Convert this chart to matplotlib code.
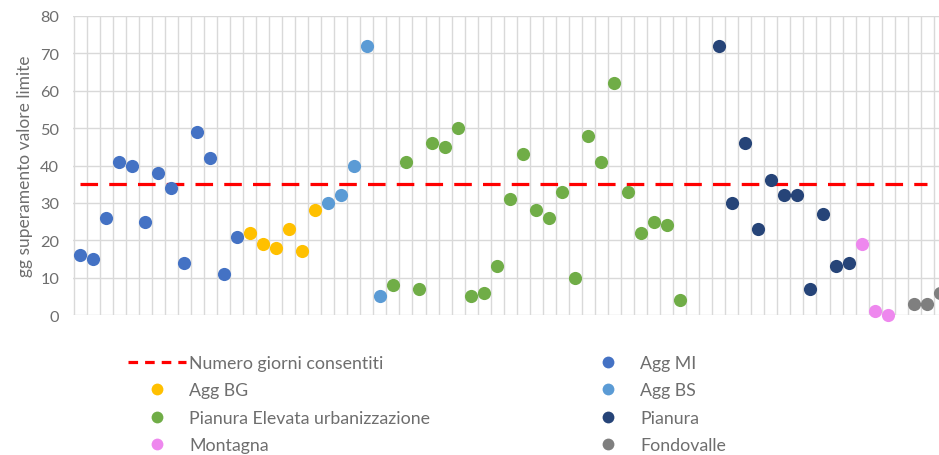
import numpy as np
import matplotlib.pyplot as plt
from matplotlib.lines import Line2D

plt.rcParams['font.family'] = ['Lato', 'DejaVu Sans']

# days over limit value, one list per station group (in x order)
agg_mi = [16, 15, 26, 41, 40, 25, 38, 34, 14, 49, 42, 11, 21]
agg_bg = [22, 19, 18, 23, 17, 28]
agg_bs = [30, 32, 40, 72, 5]
pianura_elev = [8, 41, 7, 46, 45, 50, 5, 6, 13, 31, 43, 28, 26, 33, 10, 48, 41,
                62, 33, 22, 25, 24, 4]
pianura = [72, 30, 46, 23, 36, 32, 32, 7, 27, 13, 14]
montagna = [19, 1, 0]
fondovalle = [3, 3, 6]
limite = 35

names = ['Agg MI', 'Agg BG', 'Agg BS', 'Pianura Elevata urbanizzazione',
         'Pianura', 'Montagna', 'Fondovalle']
series = [agg_mi, agg_bg, agg_bs, pianura_elev, pianura, montagna, fondovalle]
colors = ['#4472C4', '#FFC000', '#5B9BD5', '#70AD47', '#264478', '#EE88EE', '#7F7F7F']
# empty category slots before some groups
gaps = [0, 0, 0, 0, 2, 0, 1]

fig = plt.figure(figsize=(9.39, 4.56), dpi=100)
ax = fig.add_axes([73 / 939, 1 - 316 / 456, 1 - 73 / 939, (316 - 17) / 456])

start = 0
for vals, c, g in zip(series, colors, gaps):
    start += g
    x = np.arange(start, start + len(vals))
    ax.scatter(x, vals, s=90, color=c, zorder=3, linewidths=0, clip_on=False)
    start += len(vals)
n_cat = start

ax.plot([0, n_cat - 2], [limite, limite], color='#FF0000', lw=2.3,
        dashes=(5.5, 3.5), zorder=2)

ax.set_yticks(np.arange(0, 81, 10))
ax.set_xticks(np.arange(-0.5, n_cat + 0.5, 1))
ax.set_xticklabels([])
ax.set_xlim(-0.55, n_cat - 1.1)
ax.set_ylim(0, 80)
ax.grid(True, color='#D9D9D9', lw=1.0, zorder=0)
ax.set_axisbelow(True)
ax.tick_params(length=0, labelsize=11.8, labelcolor='#6E6E6E', pad=10)
for s in ax.spines.values():
    s.set_visible(False)
ax.set_ylabel('gg superamento valore limite', fontsize=12.5, color='#6E6E6E', labelpad=5)

txt = dict(fontsize=12.8, labelcolor='#6E6E6E', frameon=False, borderpad=0,
           borderaxespad=0, handlelength=3.25, handletextpad=0.2, labelspacing=0.64,
           loc='upper left')
h1 = [Line2D([], [], color='#FF0000', lw=2.3, dashes=(3, 2.2))]
l1 = ['Numero giorni consentiti']
h2 = []
l2 = []
for i, (nm, c) in enumerate(zip(names, colors)):
    h = Line2D([], [], ls='none', marker='o', markersize=8.5, color=c, markeredgewidth=0)
    if i in (1, 3, 5):
        h1.append(h)
        l1.append(nm)
    else:
        h2.append(h)
        l2.append(nm)
leg1 = fig.legend(h1, l1, bbox_to_anchor=(128 / 939, 1 - 356 / 456), **txt)
leg2 = fig.legend(h2, l2, bbox_to_anchor=(579 / 939, 1 - 356 / 456), **txt)

fig.savefig('out.png', dpi=100)
